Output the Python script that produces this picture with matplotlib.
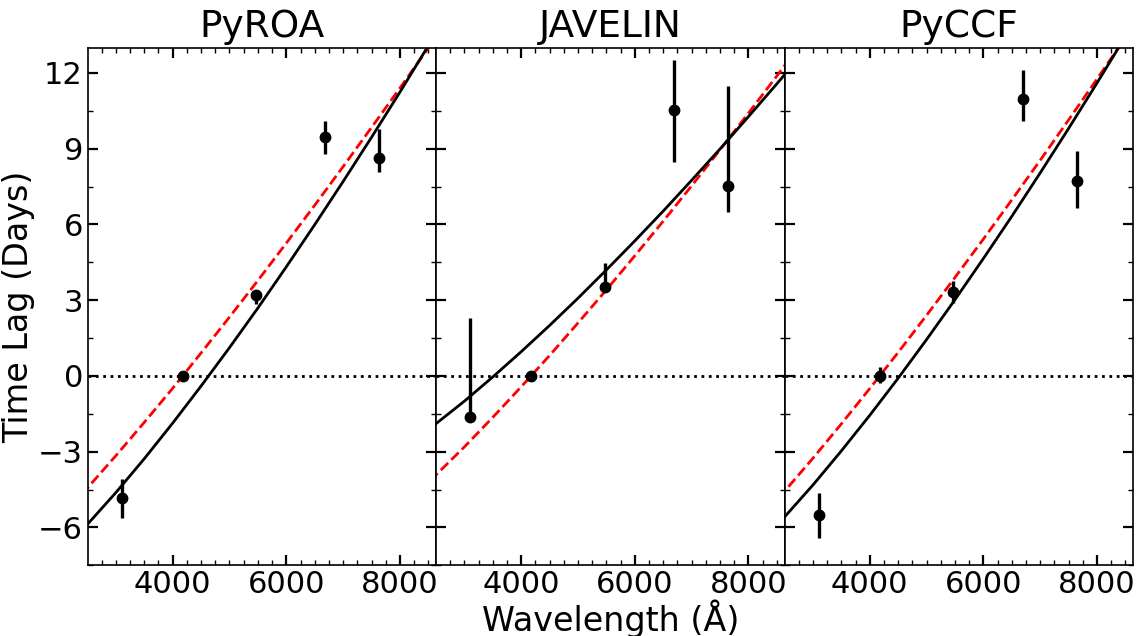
import matplotlib
matplotlib.use("Agg")
import matplotlib.pyplot as plt
from matplotlib.ticker import MultipleLocator

# ---------------- data ----------------
titles = ["PyROA", "JAVELIN", "PyCCF"]

wave = [3100, 4176, 5468, 6690, 7640]

lag_pyroa = [-4.85, 0.0, 3.19, 9.48, 8.65]
err_lo_pyroa = [0.77, 0.0, 0.36, 0.69, 0.56]
err_hi_pyroa = [0.77, 0.0, 0.17, 0.60, 1.14]

lag_javelin = [-1.64, 0.0, 3.54, 10.52, 7.51]
err_lo_javelin = [0.05, 0.0, 0.20, 2.03, 1.01]
err_hi_javelin = [3.94, 0.0, 0.95, 1.98, 3.97]

lag_pyccf = [-5.51, 0.0, 3.32, 10.98, 7.71]
err_lo_pyccf = [0.89, 0.30, 0.45, 0.90, 1.07]
err_hi_pyccf = [0.86, 0.34, 0.43, 1.13, 1.18]

# model curves
model_wave = [2400, 3000, 3500, 4000, 4500, 5000, 5500, 6000, 6500,
              7000, 7500, 8000, 8500, 8700]

fit_pyroa = [-6.13, -4.62, -3.28, -1.87, -0.40, 1.12, 2.69, 4.32, 5.99,
             7.70, 9.45, 11.24, 13.08, 13.82]
ref_pyroa = [-4.69, -3.16, -1.84, -0.49, 0.91, 2.33, 3.78, 5.26, 6.76,
             8.29, 9.84, 11.40, 12.99, 13.63]

fit_javelin = [-2.07, -1.00, -0.04, 0.96, 2.00, 3.08, 4.20, 5.35, 6.53,
               7.75, 8.99, 10.27, 11.57, 12.10]
ref_javelin = [-4.14, -2.81, -1.64, -0.43, 0.81, 2.10, 3.41, 4.76, 6.13,
               7.53, 8.96, 10.41, 11.88, 12.48]

fit_pyccf = [-5.84, -4.32, -2.97, -1.56, -0.09, 1.44, 3.02, 4.65, 6.32,
             8.04, 9.80, 11.60, 13.44, 14.18]
ref_pyccf = [-4.83, -3.26, -1.90, -0.50, 0.93, 2.40, 3.90, 5.42, 6.97,
             8.54, 10.14, 11.76, 13.40, 14.06]

x_ticks = [4000, 6000, 8000]
y_ticks = [-6, -3, 0, 3, 6, 9, 12]

lags = [lag_pyroa, lag_javelin, lag_pyccf]
err_lo = [err_lo_pyroa, err_lo_javelin, err_lo_pyccf]
err_hi = [err_hi_pyroa, err_hi_javelin, err_hi_pyccf]
fits = [fit_pyroa, fit_javelin, fit_pyccf]
refs = [ref_pyroa, ref_javelin, ref_pyccf]

# ---------------- plot ----------------
plt.rcParams['font.family'] = ['DejaVu Sans']
fig, axes = plt.subplots(1, 3, figsize=(11.41, 6.36), dpi=100, sharey=True)
fig.subplots_adjust(left=0.0769, right=0.9933, top=0.925, bottom=0.1112,
                    wspace=0)

for i, ax in enumerate(axes):
    ax.axhline(0, color='black', linestyle=':', linewidth=2.0, zorder=1)
    ax.plot(model_wave, refs[i], color='red', linestyle='--', linewidth=2.0,
            zorder=2)
    ax.plot(model_wave, fits[i], color='black', linestyle='-', linewidth=2.0,
            zorder=3)
    ax.errorbar(wave, lags[i], yerr=[err_lo[i], err_hi[i]], fmt='o',
                color='black', markersize=7.5, elinewidth=2.4, capsize=0,
                zorder=4)
    ax.set_xlim(2505, 8640)
    ax.set_ylim(-7.5, 13)
    ax.set_xticks(x_ticks)
    ax.set_yticks(y_ticks)
    ax.xaxis.set_minor_locator(MultipleLocator(250))
    ax.yaxis.set_minor_locator(MultipleLocator(1.5))
    ax.tick_params(which='both', direction='in', top=True, right=True,
                   labelsize=22)
    ax.tick_params(which='major', length=7.5, width=1.6)
    ax.tick_params(which='minor', length=3.8, width=1.0)
    for sp in ax.spines.values():
        sp.set_linewidth(1.2)
    ax.set_title(titles[i], fontsize=27, pad=8)
    if i > 0:
        ax.tick_params(labelleft=False)

axes[0].set_ylabel("Time Lag (Days)", fontsize=24, labelpad=2)
axes[1].set_xlabel("Wavelength (Å)", fontsize=24, labelpad=0)

fig.savefig("out.png", dpi=100)
